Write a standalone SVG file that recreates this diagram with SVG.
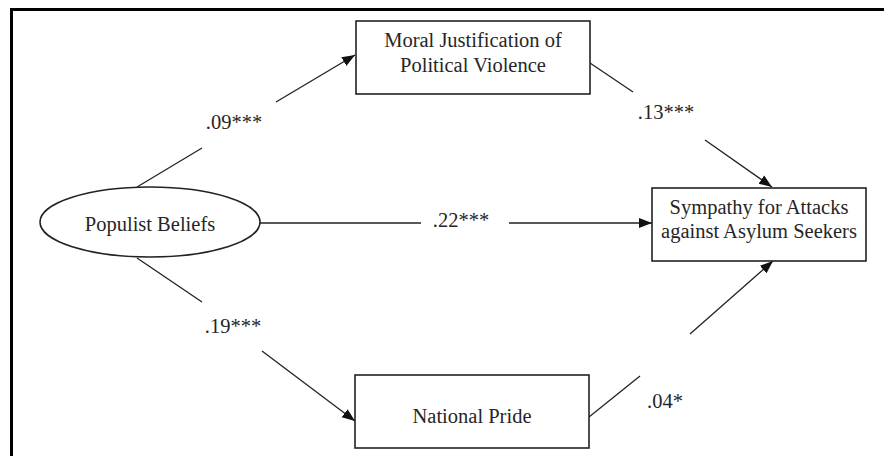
<svg xmlns="http://www.w3.org/2000/svg" width="884" height="456" viewBox="0 0 884 456">
<defs>
<style>
.box{fill:#fff;stroke:#222;stroke-width:1.6}
.ln{stroke:#222;stroke-width:1.3;fill:none}
.t{font-family:"Liberation Serif","Times New Roman",serif;font-size:20.5px;fill:#262626;text-anchor:middle}
</style>
<marker id="ah" markerUnits="userSpaceOnUse" markerWidth="14" markerHeight="12" viewBox="0 0 14 12" refX="13" refY="6" orient="auto">
<path d="M0,1 L13,6 L0,11 Z" fill="#111"/>
</marker>
</defs>
<rect width="884" height="456" fill="#fff"/>
<path d="M11.5,456 V9.5 H884" fill="none" stroke="#000" stroke-width="3"/>
<g id="connectors">
<line class="ln" x1="137" y1="187" x2="202" y2="148"/>
<line class="ln" x1="276" y1="102" x2="355" y2="55" marker-end="url(#ah)"/>
<line class="ln" x1="590" y1="63" x2="633" y2="92"/>
<line class="ln" x1="705" y1="140" x2="772" y2="187" marker-end="url(#ah)"/>
<line class="ln" x1="260" y1="223" x2="421" y2="223"/>
<line class="ln" x1="509" y1="223" x2="652" y2="223" marker-end="url(#ah)"/>
<line class="ln" x1="137" y1="258" x2="202" y2="302"/>
<line class="ln" x1="262" y1="351" x2="355" y2="421" marker-end="url(#ah)"/>
<line class="ln" x1="589" y1="417" x2="640" y2="376"/>
<line class="ln" x1="690" y1="334" x2="773" y2="261" marker-end="url(#ah)"/>
<text class="t" x="234" y="129">.09***</text>
<text class="t" x="666" y="119">.13***</text>
<text class="t" x="461" y="227">.22***</text>
<text class="t" x="233" y="333">.19***</text>
<text class="t" x="665" y="408">.04*</text>
</g>
<g id="populist">
<ellipse cx="150" cy="222" rx="110" ry="35" class="box"/>
<text class="t" x="150" y="231">Populist Beliefs</text>
</g>
<g id="moral">
<rect x="356" y="21" width="234" height="73" class="box"/>
<text class="t" x="473" y="47">Moral Justification of</text>
<text class="t" x="473" y="72">Political Violence</text>
</g>
<g id="sympathy">
<rect x="652" y="188" width="214" height="73" class="box"/>
<text class="t" x="759" y="214">Sympathy for Attacks</text>
<text class="t" x="759" y="238">against Asylum Seekers</text>
</g>
<g id="pride">
<rect x="355" y="375" width="234" height="73" class="box"/>
<text class="t" x="472" y="423">National Pride</text>
</g>
</svg>
